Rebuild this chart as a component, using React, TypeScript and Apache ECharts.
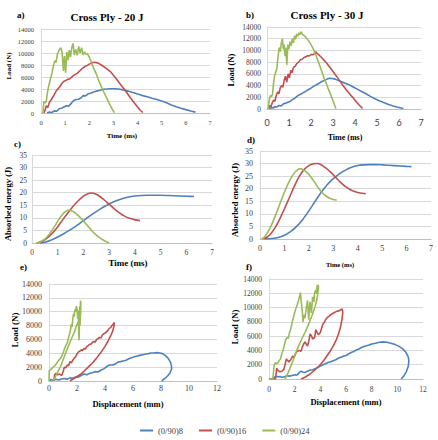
import React, { useEffect, useRef } from "react";
import * as echarts from "echarts";

// Laminate lay-ups shown in every panel
const layups = ["(0/90)8", "(0/90)16", "(0/90)24"];
const colors = ["#4F81BD", "#C0504D", "#9BBB59"];

// a) Load (N) vs time (ms), 20 J impact
const loadTime20_8 = [[0.25,0],[0.35,150],[0.45,80],[0.55,350],[0.65,300],[0.75,700],[0.85,800],[0.95,1000],[1.05,1200],[1.15,1150],[1.25,1600],[1.35,2100],[1.45,2250],[1.55,2300],[1.65,2500],[1.75,2900],[1.85,2850],[1.95,3200],[2.05,3300],[2.15,3450],[2.3,3650],[2.45,3800],[2.6,3950],[2.75,4000],[2.9,4050],[3.05,4050],[3.2,4000],[3.4,3850],[3.6,3650],[3.8,3400],[4.0,3150],[4.2,2900],[4.4,2700],[4.6,2450],[4.8,2250],[5.0,2000],[5.2,1700],[5.4,1350],[5.6,1050],[5.8,800],[6.0,560],[6.2,330],[6.4,150]];
const loadTime20_16 = [[0.12,0],[0.18,600],[0.22,1200],[0.28,900],[0.35,1800],[0.42,2200],[0.5,2700],[0.58,3300],[0.65,3800],[0.72,4100],[0.8,4500],[0.88,5000],[0.95,5300],[1.02,5400],[1.1,5600],[1.2,5700],[1.3,6100],[1.4,6400],[1.5,6600],[1.6,7000],[1.7,7400],[1.8,7700],[1.9,7900],[2.0,8150],[2.1,8350],[2.2,8450],[2.35,8350],[2.5,8000],[2.7,7450],[2.9,6800],[3.1,5800],[3.3,4700],[3.5,3700],[3.7,2550],[3.9,1500],[4.1,500],[4.22,80]];
const loadTime20_24 = [[0.08,0],[0.12,1900],[0.18,1700],[0.22,2000],[0.27,3500],[0.32,4500],[0.38,5500],[0.45,6600],[0.52,8000],[0.57,8700],[0.62,8400],[0.68,9800],[0.75,10500],[0.82,10900],[0.87,10200],[0.93,7000],[0.97,9500],[1.02,6700],[1.07,10200],[1.12,8800],[1.17,10500],[1.22,9300],[1.28,11000],[1.33,11600],[1.38,9700],[1.44,10600],[1.5,9600],[1.56,11100],[1.62,10000],[1.68,10900],[1.74,9700],[1.8,10200],[1.86,9800],[1.92,9900],[2.0,9300],[2.1,8300],[2.2,7300],[2.3,6400],[2.4,5300],[2.5,4400],[2.6,3500],[2.7,2700],[2.8,1800],[2.9,1000],[3.0,300],[3.04,60]];

// b) Load (N) vs time (ms), 30 J impact
const loadTime30_8 = [[0.15,0],[0.2,300],[0.28,150],[0.35,400],[0.45,350],[0.55,600],[0.65,500],[0.75,900],[0.85,1000],[0.95,1150],[1.05,1300],[1.15,1600],[1.25,1800],[1.35,2100],[1.45,2400],[1.55,2550],[1.65,2800],[1.75,3000],[1.85,3250],[1.95,3450],[2.05,3700],[2.15,3950],[2.25,4150],[2.35,4350],[2.45,4600],[2.55,4800],[2.65,4950],[2.75,5150],[2.85,5250],[2.95,5200],[3.1,5100],[3.3,4800],[3.5,4500],[3.7,4200],[3.9,3800],[4.1,3400],[4.3,3000],[4.5,2600],[4.7,2150],[4.9,1750],[5.1,1400],[5.3,1100],[5.5,800],[5.7,550],[5.9,330],[6.1,160],[6.2,90]];
const loadTime30_16 = [[0.08,0],[0.12,600],[0.18,400],[0.24,1100],[0.3,1500],[0.36,1300],[0.42,2300],[0.48,2900],[0.54,2600],[0.6,3600],[0.66,4000],[0.72,3700],[0.78,4900],[0.84,5600],[0.9,4600],[0.96,6000],[1.02,5300],[1.08,6600],[1.14,6200],[1.2,7100],[1.28,7300],[1.36,7800],[1.44,8000],[1.52,8400],[1.6,8500],[1.68,8800],[1.76,8900],[1.84,9100],[1.92,9050],[2.0,9300],[2.08,9250],[2.16,9500],[2.22,9750],[2.3,9400],[2.4,9100],[2.5,8700],[2.6,8300],[2.7,7900],[2.8,7400],[2.9,6900],[3.0,6400],[3.1,5900],[3.2,5400],[3.3,4850],[3.4,4300],[3.5,3800],[3.6,3300],[3.7,2850],[3.8,2400],[3.9,1950],[4.0,1500],[4.1,1050],[4.2,650],[4.3,250],[4.34,80]];
const loadTime30_24 = [[0.05,0],[0.1,1500],[0.15,2300],[0.2,2100],[0.25,2500],[0.3,4500],[0.35,5800],[0.4,6300],[0.45,7000],[0.5,8800],[0.55,10500],[0.6,9800],[0.65,11200],[0.7,12000],[0.74,10200],[0.78,11000],[0.82,9000],[0.86,10500],[0.9,7500],[0.95,11000],[1.0,10200],[1.05,11500],[1.1,10800],[1.15,12000],[1.2,11300],[1.25,12500],[1.3,11900],[1.35,12800],[1.4,12400],[1.45,13000],[1.5,12700],[1.55,13200],[1.6,12800],[1.7,12500],[1.8,12100],[1.9,11600],[2.0,11000],[2.1,10300],[2.2,9400],[2.3,8400],[2.4,7400],[2.5,6300],[2.6,5200],[2.7,4300],[2.8,3300],[2.9,2400],[3.0,1400],[3.1,400],[3.13,60]];

// c) Absorbed energy (J) vs time (ms), 20 J impact
const energy20_8 = [[0.3,0],[0.5,0.3],[0.75,1.2],[1.0,2.4],[1.25,3.8],[1.5,5.3],[1.75,7.0],[2.0,8.9],[2.25,10.8],[2.5,12.5],[2.75,14.1],[3.0,15.5],[3.25,16.7],[3.5,17.6],[3.75,18.3],[4.0,18.7],[4.25,18.9],[4.5,19.0],[4.75,19.0],[5.0,19.0],[5.5,18.8],[6.0,18.6],[6.3,18.5]];
const energy20_16 = [[0.2,0],[0.4,0.6],[0.6,2.0],[0.8,4.0],[1.0,6.5],[1.2,9.3],[1.4,12.0],[1.6,14.6],[1.8,16.8],[2.0,18.6],[2.15,19.5],[2.3,19.9],[2.45,19.6],[2.6,18.8],[2.8,17.2],[3.0,15.4],[3.2,13.6],[3.4,12.0],[3.6,10.7],[3.8,9.8],[4.0,9.2],[4.2,8.9]];
const energy20_24 = [[0.15,0],[0.3,0.4],[0.45,1.2],[0.6,2.6],[0.75,4.6],[0.9,7.0],[1.05,9.5],[1.2,11.5],[1.3,12.5],[1.4,13.0],[1.5,12.9],[1.6,12.5],[1.7,11.8],[1.85,10.4],[2.0,8.8],[2.15,7.0],[2.3,5.2],[2.45,3.6],[2.6,2.3],[2.75,1.3],[2.9,0.5],[3.0,0.1]];

// d) Absorbed energy (J) vs time (ms), 30 J impact
const energy30_8 = [[0.2,0],[0.5,0.2],[0.75,0.6],[1.0,1.5],[1.25,2.9],[1.5,5.0],[1.75,7.8],[2.0,11.2],[2.25,14.9],[2.5,18.5],[2.75,21.6],[3.0,24.0],[3.25,25.9],[3.5,27.4],[3.75,28.5],[4.0,29.2],[4.25,29.5],[4.5,29.6],[4.75,29.6],[5.0,29.5],[5.5,29.2],[6.0,28.9],[6.2,28.8]];
const energy30_16 = [[0.14,0],[0.3,0.8],[0.45,2.2],[0.6,4.2],[0.8,7.8],[1.0,12.0],[1.2,16.4],[1.4,20.8],[1.6,24.8],[1.8,27.6],[2.0,29.2],[2.2,29.9],[2.35,30.0],[2.5,29.5],[2.7,28.2],[2.9,26.5],[3.1,24.5],[3.3,22.5],[3.5,20.8],[3.7,19.6],[3.9,18.8],[4.1,18.3],[4.33,18.0]];
const energy30_24 = [[0.07,0],[0.2,1.0],[0.35,3.2],[0.5,6.2],[0.65,9.8],[0.8,13.6],[0.95,17.4],[1.1,20.9],[1.25,23.9],[1.4,26.2],[1.55,27.6],[1.65,28.0],[1.8,27.4],[1.95,26.2],[2.1,24.5],[2.25,22.4],[2.4,20.2],[2.55,18.4],[2.7,17.1],[2.85,16.2],[3.0,15.7],[3.14,15.4]];

// e) Load (N) vs displacement (mm), 20 J impact
const loadDisp20_8 = [[0.05,0],[0.1,200],[0.3,100],[0.5,250],[0.7,150],[0.9,300],[1.1,350],[1.3,250],[1.5,450],[1.7,400],[1.9,600],[2.1,550],[2.3,800],[2.5,1000],[2.7,900],[2.9,1100],[3.1,1200],[3.3,1350],[3.5,1300],[3.7,1550],[3.9,1750],[4.1,2050],[4.3,2300],[4.5,2300],[4.7,2400],[4.9,2700],[5.1,2800],[5.3,2900],[5.5,3000],[5.7,3200],[5.9,3350],[6.1,3500],[6.3,3600],[6.5,3700],[6.7,3800],[6.9,3900],[7.1,3950],[7.3,4050],[7.5,4050],[7.7,4100],[7.9,4050],[8.1,3950],[8.3,3700],[8.5,3300],[8.65,2800],[8.75,2200],[8.75,1700],[8.65,1200],[8.5,800],[8.3,400],[8.05,0]];
const loadDisp20_16 = [[0.35,0],[0.4,900],[0.5,1100],[0.6,900],[0.75,1000],[0.9,800],[1.0,1300],[1.1,2000],[1.2,1900],[1.3,2300],[1.4,2200],[1.5,2800],[1.6,2600],[1.7,3000],[1.8,3300],[1.9,3500],[2.0,3900],[2.1,4200],[2.2,4300],[2.3,4500],[2.4,4400],[2.5,4700],[2.6,4600],[2.7,5000],[2.8,5100],[2.9,5300],[3.0,5300],[3.1,5600],[3.2,5700],[3.3,5600],[3.4,6000],[3.5,6100],[3.6,6300],[3.7,6200],[3.8,6600],[3.9,6800],[4.0,6900],[4.1,7100],[4.2,7300],[4.3,7600],[4.4,7700],[4.5,8000],[4.6,8200],[4.67,8450],[4.65,8000],[4.55,7200],[4.4,6500],[4.2,5700],[4.0,5000],[3.7,4100],[3.4,3300],[3.1,2600],[2.8,2000],[2.5,1400],[2.2,900],[1.9,500],[1.6,150],[1.5,0]];
const loadDisp20_24 = [[0.0,0],[0.02,1500],[0.15,1700],[0.3,2000],[0.45,2300],[0.6,2700],[0.75,3100],[0.9,3500],[1.0,4000],[1.1,4600],[1.2,5100],[1.3,5500],[1.4,6300],[1.5,7000],[1.6,8200],[1.65,7800],[1.7,9000],[1.75,9700],[1.8,9300],[1.85,10300],[1.9,10000],[1.95,10800],[2.0,10400],[2.05,9000],[2.1,10200],[2.12,7000],[2.15,5900],[2.18,9500],[2.2,10800],[2.22,8000],[2.25,11600],[2.28,11200],[2.25,9500],[2.1,8600],[1.95,7900],[1.8,7000],[1.6,6100],[1.4,5100],[1.2,4100],[1.0,3000],[0.8,2000],[0.6,1200],[0.45,600],[0.3,0]];

// f) Load (N) vs displacement (mm), 30 J impact
const loadDisp30_8 = [[0.0,0],[0.2,0],[0.4,200],[0.55,400],[0.7,300],[0.85,350],[1.0,250],[1.2,300],[1.4,450],[1.6,400],[1.8,500],[2.0,600],[2.2,550],[2.35,900],[2.5,1100],[2.65,950],[2.8,900],[3.0,1100],[3.2,1250],[3.4,1300],[3.6,1450],[3.8,1600],[4.0,1800],[4.2,2000],[4.4,2150],[4.6,2300],[4.8,2400],[5.0,2550],[5.2,2700],[5.4,2900],[5.6,3050],[5.8,3200],[6.0,3300],[6.2,3500],[6.4,3700],[6.6,3850],[6.8,4050],[7.0,4200],[7.2,4400],[7.4,4550],[7.6,4650],[7.8,4750],[8.0,4900],[8.3,5000],[8.6,5150],[8.9,5200],[9.2,5150],[9.5,5000],[9.8,4850],[10.1,4600],[10.4,4250],[10.65,3800],[10.85,3100],[10.9,2500],[10.85,1800],[10.7,1000],[10.5,400],[10.3,0]];
const loadDisp30_16 = [[0.3,0],[0.5,0],[0.6,1500],[0.7,1200],[0.85,1000],[1.0,1100],[1.15,1300],[1.25,2000],[1.35,2800],[1.45,2600],[1.55,2400],[1.7,2700],[1.85,3200],[1.95,3000],[2.05,3500],[2.2,3900],[2.35,4000],[2.5,3900],[2.6,4500],[2.7,4900],[2.8,5200],[2.9,4900],[3.0,4600],[3.1,5300],[3.2,6300],[3.3,6100],[3.4,5600],[3.55,5800],[3.65,6900],[3.75,6500],[3.85,6200],[4.0,6500],[4.1,7100],[4.2,7700],[4.3,7900],[4.4,8300],[4.5,8500],[4.6,8700],[4.7,8800],[4.8,9000],[4.9,9100],[5.0,9200],[5.1,9300],[5.2,9400],[5.3,9500],[5.4,9500],[5.5,9600],[5.6,9700],[5.7,9800],[5.75,9400],[5.7,8500],[5.6,7500],[5.45,6500],[5.25,5500],[5.0,4600],[4.7,3700],[4.35,2800],[4.0,2000],[3.6,1300],[3.2,700],[2.8,250],[2.5,0]];
const loadDisp30_24 = [[0.0,0],[0.3,0],[0.4,1900],[0.5,2300],[0.6,2100],[0.7,2300],[0.8,2600],[0.9,2800],[1.0,3600],[1.1,4000],[1.2,4800],[1.3,5500],[1.4,5800],[1.5,5700],[1.6,6500],[1.7,7000],[1.8,7900],[1.9,8600],[2.0,9300],[2.1,9900],[2.2,10400],[2.3,11000],[2.4,11700],[2.45,12100],[2.5,11000],[2.55,10200],[2.6,9300],[2.65,8000],[2.7,9000],[2.8,8500],[2.9,9900],[3.0,11000],[3.05,9500],[3.1,8300],[3.15,9900],[3.2,10800],[3.3,9200],[3.4,11500],[3.5,10800],[3.55,12000],[3.65,12500],[3.7,11900],[3.75,13100],[3.8,12700],[3.85,13200],[3.85,12600],[3.75,11300],[3.6,10200],[3.4,9100],[3.2,8200],[3.0,7300],[2.8,6500],[2.55,5600],[2.3,4600],[2.1,3700],[1.9,2700],[1.7,1800],[1.5,900],[1.3,200],[1.25,0]];

const SERIF = "Liberation Serif";
const SANS = "Lato";

type Panel = {
  grid: { left: number; top: number; width: number; height: number };
  xMax: number; xStep: number; yMax: number; yStep: number;
  xFont: number; yFont: number; xMargin: number; yMargin: number;
  xFamily?: string;
  smooth?: boolean;
  series: number[][][];
};

const panels: Panel[] = [
  { grid: { left: 41, top: 29, width: 169, height: 84 }, xMax: 7, xStep: 1, yMax: 14000, yStep: 2000,
    xFont: 6.5, yFont: 6.5, xMargin: 6, yMargin: 7, series: [loadTime20_8, loadTime20_16, loadTime20_24] },
  { grid: { left: 267, top: 27, width: 154, height: 82 }, xMax: 7, xStep: 1, yMax: 14000, yStep: 2000,
    xFont: 9, yFont: 7.5, xMargin: 9, yMargin: 6, xFamily: SANS, series: [loadTime30_8, loadTime30_16, loadTime30_24] },
  { grid: { left: 32, top: 155, width: 180, height: 88 }, xMax: 7, xStep: 1, yMax: 35, yStep: 5,
    xFont: 7.5, yFont: 7.5, xMargin: 5, yMargin: 5, smooth: true, series: [energy20_8, energy20_16, energy20_24] },
  { grid: { left: 260, top: 151, width: 171, height: 88 }, xMax: 7, xStep: 1, yMax: 35, yStep: 5,
    xFont: 8, yFont: 8, xMargin: 5, yMargin: 7, smooth: true, series: [energy30_8, energy30_16, energy30_24] },
  { grid: { left: 49, top: 284, width: 168, height: 97 }, xMax: 12, xStep: 2, yMax: 14000, yStep: 2000,
    xFont: 8, yFont: 8, xMargin: 3, yMargin: 7, series: [loadDisp20_8, loadDisp20_16, loadDisp20_24] },
  { grid: { left: 269, top: 279, width: 154, height: 100 }, xMax: 12, xStep: 2, yMax: 14000, yStep: 2000,
    xFont: 7.5, yFont: 7.5, xMargin: 6, yMargin: 7, series: [loadDisp30_8, loadDisp30_16, loadDisp30_24] },
];

// Free-standing texts: panel titles, panel letters and axis titles
type Label = { text: string; x: number; y: number; size: number; rotate?: boolean; align?: string };
const labels: Label[] = [
  { text: "Cross Ply - 20 J", x: 107, y: 17, size: 11 },
  { text: "Cross Ply - 30 J", x: 327, y: 15, size: 11 },
  { text: "a)", x: 17, y: 15, size: 9, align: "left" },
  { text: "b)", x: 246, y: 15, size: 9, align: "left" },
  { text: "c)", x: 14, y: 144, size: 9, align: "left" },
  { text: "d)", x: 247, y: 140, size: 9, align: "left" },
  { text: "e)", x: 20, y: 267, size: 9, align: "left" },
  { text: "f)", x: 246, y: 267, size: 9, align: "left" },
  { text: "Load (N)", x: 9, y: 66, size: 7, rotate: true },
  { text: "Time (ms)", x: 122, y: 136, size: 7 },
  { text: "Load (N)", x: 231, y: 70, size: 8.5, rotate: true },
  { text: "Time (ms)", x: 345, y: 137, size: 8 },
  { text: "Absorbed energy (J)", x: 8, y: 204, size: 8.5, rotate: true },
  { text: "Time (ms)", x: 128, y: 263, size: 9 },
  { text: "Absorbed energy (J)", x: 235, y: 200, size: 8.5, rotate: true },
  { text: "Time (ms)", x: 340, y: 264, size: 6.5 },
  { text: "Load (N)", x: 15, y: 330, size: 9, rotate: true },
  { text: "Displacement (mm)", x: 128, y: 404, size: 8.5 },
  { text: "Load (N)", x: 235, y: 327, size: 9, rotate: true },
  { text: "Displacement (mm)", x: 346, y: 402, size: 8.5 },
];

export default function App() {
  const ref = useRef<HTMLDivElement>(null);

  useEffect(() => {
    document.body.style.margin = "0";
    if (!ref.current) return;
    const chart = echarts.init(ref.current, undefined, { renderer: "svg" });

    const plain = (v: number) => String(v);
    const grids = panels.map((p) => ({ ...p.grid, containLabel: false }));
    const xAxes = panels.map((p, i) => ({
      type: "value", gridIndex: i, min: 0, max: p.xMax, interval: p.xStep,
      axisLine: { show: true, lineStyle: { color: "#BFBFBF", width: 1 } },
      axisTick: { show: false },
      splitLine: { show: false },
      axisLabel: { fontSize: p.xFont, fontFamily: p.xFamily || SERIF, color: "#404040", margin: p.xMargin, formatter: plain },
    }));
    const yAxes = panels.map((p, i) => ({
      type: "value", gridIndex: i, min: 0, max: p.yMax, interval: p.yStep,
      axisLine: { show: true, lineStyle: { color: "#D9D9D9", width: 1 } },
      axisTick: { show: false },
      splitLine: { show: true, lineStyle: { color: "#D9D9D9", width: 1 } },
      axisLabel: { fontSize: p.yFont, fontFamily: SERIF, color: "#404040", margin: p.yMargin, formatter: plain },
    }));
    const series: any[] = [];
    panels.forEach((p, i) => {
      p.series.forEach((data, k) => {
        series.push({
          type: "line", name: layups[k], xAxisIndex: i, yAxisIndex: i,
          data, showSymbol: false, symbol: "none", smooth: p.smooth ? 0.3 : false,
          lineStyle: { color: colors[k], width: 1.6 },
          itemStyle: { color: colors[k] },
          z: 2 + k,
        });
      });
    });

    const graphic = labels.map((l) => ({
      type: "text", x: l.x, y: l.y, rotation: l.rotate ? Math.PI / 2 : 0,
      style: {
        text: l.text, fontSize: l.size, fontFamily: SERIF, fontWeight: "bold",
        fill: "#000", align: l.align || "center", verticalAlign: "middle",
      },
    }));

    chart.setOption({
      animation: false,
      backgroundColor: "#fff",
      grid: grids,
      xAxis: xAxes,
      yAxis: yAxes,
      series,
      graphic,
      legend: {
        data: layups, left: 135, top: 421, itemWidth: 13, itemHeight: 2, itemGap: 16,
        icon: "rect", textStyle: { fontSize: 8.5, fontFamily: SERIF, color: "#404040" },
      },
    });
    return () => chart.dispose();
  }, []);

  return <div ref={ref} style={{ width: 438, height: 440 }} />;
}
